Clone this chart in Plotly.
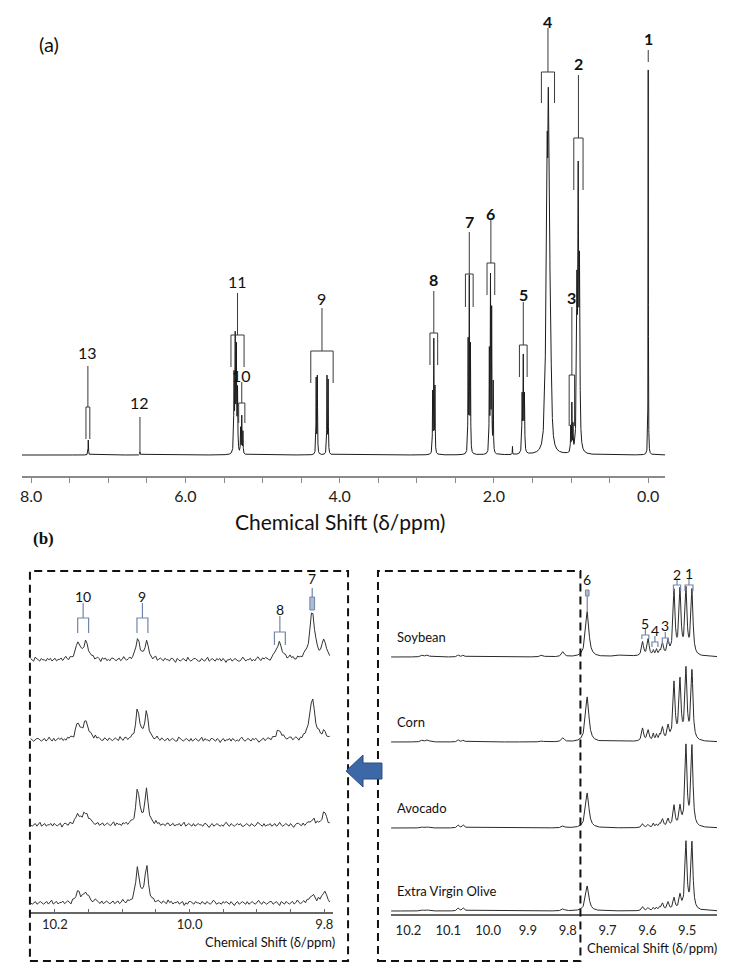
import numpy as np
import plotly.graph_objects as go

W, H = 736, 979
FONT = "Lato"

# ---------------- (a) full 1H NMR spectrum ----------------
a_ppm = [7.26, 6.59,
         5.37, 5.355, 5.34, 5.325, 5.285, 5.27, 5.255,
         4.305, 4.29, 4.165, 4.15,
         2.795, 2.78, 2.765,
         2.335, 2.32, 2.305,
         2.06, 2.045, 2.03, 2.01,
         1.76,
         1.635, 1.62, 1.605,
         1.33, 1.31, 1.295, 1.28, 1.26,
         1.005, 0.99, 0.975,
         0.925, 0.908, 0.891,
         0.0]
a_int = [15, 3,
         75, 111, 100, 60, 25, 37, 22,
         75, 77, 77, 73,
         60, 112, 65,
         110, 172, 105,
         100, 172, 140, 70,
         8,
         55, 93, 55,
         65, 225, 262, 180, 55,
         25, 47, 25,
         150, 258, 170,
         385]
a_hw = [0.003, 0.003,
        0.004, 0.004, 0.004, 0.004, 0.003, 0.003, 0.003,
        0.003, 0.003, 0.003, 0.003,
        0.003, 0.003, 0.003,
        0.003, 0.003, 0.003,
        0.003, 0.003, 0.003, 0.003,
        0.002,
        0.004, 0.004, 0.004,
        0.015, 0.008, 0.008, 0.008, 0.012,
        0.003, 0.003, 0.003,
        0.006, 0.006, 0.006,
        0.002]
a_ticks = [8.0, 6.0, 4.0, 2.0, 0.0]

# ---------------- (b) aldehyde region, four oils ----------------
oils = ["Soybean", "Corn", "Avocado", "Extra Virgin Olive"]
b_ppm = [10.165, 10.152, 10.075, 10.062, 9.865, 9.812, 9.751, 9.66,
         9.612, 9.598, 9.585, 9.577, 9.569, 9.562, 9.548, 9.533, 9.518, 9.503, 9.488]
b_hw = [0.004, 0.004, 0.003, 0.003, 0.004, 0.004, 0.005, 0.02,
        0.003, 0.003, 0.002, 0.002, 0.002, 0.003, 0.003, 0.003, 0.003, 0.003, 0.003]
b_soy = [2, 2, 2, 2, 2, 5, 45, 2, 14, 17, 5, 6, 4, 12, 14, 64, 64, 65, 65]
b_corn = [2, 2, 2, 2, 1, 4, 45, 1, 13, 11, 7, 6, 5, 13, 14, 57, 59, 70, 69]
b_avo = [1, 1, 3, 3, 0, 2, 35, 0, 4, 3, 4, 3, 3, 8, 8, 21, 19, 80, 80]
b_evo = [1, 1, 3, 3, 0, 2, 25, 0, 4, 3, 3, 3, 3, 7, 8, 12, 14, 67, 67]
b_ticks = [10.2, 10.1, 10.0, 9.9, 9.8, 9.7, 9.6, 9.5]

# expansion 10.24-9.79 ppm (vertically magnified)
e_ppm = [10.166, 10.154, 10.077, 10.064, 9.867, 9.818, 9.800]
e_hw = [0.0035, 0.005, 0.003, 0.003, 0.005, 0.0045, 0.0035]
e_soy = [17, 16, 22, 20, 17, 48, 18]
e_corn = [16, 18, 32, 28, 9, 42, 7]
e_avo = [10, 12, 36, 34, 0, 5, 13]
e_evo = [11, 10, 36, 37, 0, 8, 12]
e_ticks = [10.2, 10.0, 9.8]

noise_soy = [0,1,0,-1,1,2,0,-1,0,1,-1,0,1,0,-2,0,1,1,-1,0,0,1,-1,-1,1,0,2,0,-1,1,0,-1,0,1,-1,0,1,1,0,-2,-1,0,1,0,1,-1,0,2,1,-1,0,-1,1,0,0,-1,1,2,0,-1,-1,0,1,0,-1,1,0,0,-2,0,1,-1,1,0,1,-1,0,1,0,-1,2,0,-1,0,1,-1,-1,0,1,1,0,-1,0,2,-1,0,1,0,-1,0,1,-2,0,1,1,-1,0,0,1,-1,0,1,0,-1,2,1,-1,0,0,1,-1,-2,0,1,0,1,-1,0,1,0,-1,1,0,-1,0,2,0,-1,1,0,-1,0,1,1,-1,0,-1,1,0,1,-2,0,1,0,-1,1,0,0,-1,1,2,-1,0,1,0,-1,0,1,-1,0,1,-1,0,2,0,-1,1,0,0,-1,1,0,-1,1,0,1,-1,0,0,1,-1,0,1,2,-1,0,1]
noise_corn = [1,0,-1,0,1,-1,0,2,0,-1,1,0,-1,-1,0,1,0,1,-1,0,-2,0,1,0,-1,1,1,0,-1,0,1,-1,0,0,2,-1,0,1,-1,0,1,0,-1,1,0,-1,-2,0,1,0,1,-1,0,1,0,-1,0,2,1,-1,0,-1,0,1,-1,1,0,0,-1,1,0,-2,0,1,-1,0,1,1,-1,0,0,1,-1,2,0,-1,0,1,0,-1,1,-1,0,1,0,-1,0,1,2,-1,-1,0,1,0,-1,1,0,-1,0,1,-1,0,2,0,-1,0,1,-1,1,0,-1,0,1,0,-2,1,0,-1,1,0,0,-1,1,1,-1,0,2,-1,0,1,0,-1,0,1,-1,0,1,-1,-1,0,1,0,2,-1,0,1,-1,0,0,1,-1,1,0,-1,0,1,-2,0,1,0,1,-1,0,-1,1,0,1,0,-1,1,-1,0,2,0,-1,1,0,-1,0,1,1,0,-1,0,1]
noise_avo = [0,-1,1,0,1,-1,0,0,1,-1,2,0,-1,0,1,0,-1,1,-1,0,1,1,0,-2,0,1,-1,0,1,0,-1,0,2,0,-1,1,0,-1,1,0,0,-1,1,-1,0,1,2,0,-1,0,1,-1,0,1,0,-1,-1,1,0,1,0,-1,0,1,-1,0,2,1,-1,0,-1,0,1,0,-1,1,0,-2,0,1,1,-1,0,0,1,0,-1,1,-1,0,1,0,-1,2,0,-1,1,0,0,-1,1,0,-1,1,1,-1,0,0,-1,1,0,2,-1,0,1,-1,0,1,0,-1,0,1,-1,1,0,-2,0,1,0,-1,1,0,1,-1,0,0,1,-1,2,0,-1,0,1,0,-1,1,0,-1,1,0,-1,0,1,1,-1,0,-1,2,0,1,-1,0,0,1,-1,0,1,-1,0,1,0,-2,1,0,-1,0,1,-1,1,0,0,-1,1,0,-1,2,0,-1,1,0,-1,0]
noise_evo = [-1,0,1,0,-1,1,0,2,-1,0,1,-1,0,0,1,-1,1,0,-1,0,2,0,-1,1,0,-1,0,1,-1,0,1,-2,0,1,0,-1,1,1,0,-1,0,1,-1,0,2,0,-1,0,1,0,-1,1,-1,0,1,0,-1,1,0,-2,0,1,-1,0,1,0,1,-1,0,0,-1,1,2,0,-1,0,1,-1,0,1,-1,0,0,1,-1,0,1,1,-1,0,-2,1,0,-1,1,0,0,-1,1,0,2,-1,0,1,-1,0,1,0,-1,1,0,-1,0,1,-1,0,1,0,-2,0,1,1,-1,0,0,1,-1,0,2,0,-1,1,0,-1,1,0,-1,0,1,0,-1,1,-1,0,1,2,0,-1,0,1,-1,0,0,1,-1,1,0,-1,0,1,-2,0,1,0,-1,1,0,0,-1,1,0,-1,2,0,-1,1,0,-1,0,1,0,-1,1,0,-1,0]


def spectrum(x, centers, heights, widths):
    x = np.asarray(x, dtype=float)[:, None]
    c = np.asarray(centers, dtype=float)[None, :]
    h = np.asarray(heights, dtype=float)[None, :]
    w = np.asarray(widths, dtype=float)[None, :]
    return (h / (1.0 + ((x - c) / w) ** 2)).sum(axis=1)


def fine_grid(lo, hi, step, centers):
    g = np.concatenate([np.arange(lo, hi, step), np.asarray(centers, float)])
    g = g[(g >= lo) & (g <= hi)]
    return np.unique(g)


fig = go.Figure()
LINE = dict(color="#1c1c1c", width=1)

# (a)
xa = fine_grid(-0.22, 8.12, 0.0005, a_ppm)
fig.add_trace(go.Scatter(x=xa, y=spectrum(xa, a_ppm, a_int, a_hw), mode="lines",
                         line=LINE, xaxis="x", yaxis="y", hoverinfo="skip"))

# (b) right: full aldehyde region, stacked
b_offsets = [257, 172, 86, 3]
xb = fine_grid(9.425, 10.244, 0.0005, b_ppm)
for vals, off in zip([b_soy, b_corn, b_avo, b_evo], b_offsets):
    fig.add_trace(go.Scatter(x=xb, y=spectrum(xb, b_ppm, vals, b_hw) + off, mode="lines",
                             line=dict(color="#2a2a2a", width=1), xaxis="x3", yaxis="y3",
                             hoverinfo="skip"))

# (b) left: expansion with noise
e_offsets = [252, 172, 87, 9]
for vals, noise, off in zip([e_soy, e_corn, e_avo, e_evo],
                            [noise_soy, noise_corn, noise_avo, noise_evo], e_offsets):
    xe = np.linspace(9.792, 10.236, len(noise))
    ye = spectrum(xe, e_ppm, vals, e_hw) + 1.3 * np.asarray(noise, float) + off
    fig.add_trace(go.Scatter(x=xe, y=ye, mode="lines",
                             line=dict(color="#333333", width=1), xaxis="x2", yaxis="y2",
                             hoverinfo="skip"))

shapes = []
annotations = []


def ptx(x):
    return x / W


def pty(y):
    return 1 - y / H


def bracket(xref, yref, c, hw, top, leg, stem, color, width=1):
    p = f"M{c - hw},{leg} L{c - hw},{top} L{c + hw},{top} L{c + hw},{leg}"
    if stem is not None:
        p += f" M{c},{top} L{c},{stem}"
    shapes.append(dict(type="path", path=p, xref=xref, yref=yref,
                       line=dict(color=color, width=width)))


def label(xref, yref, x, y, text, size, bold=False, color="#111", anchor="center", family=FONT):
    annotations.append(dict(x=x, y=y, xref=xref, yref=yref, showarrow=False,
                            text=f"<b>{text}</b>" if bold else text,
                            font=dict(size=size, family=family, color=color),
                            xanchor=anchor, yanchor="middle"))


# (a) peak assignments: text, ppm, half-width, box top, leg bottom, stem top, label y, bold
a_labels = [
    ("13", 7.265, 0.025, 48, 16, 89, 103, False),
    ("11", 5.325, 0.085, 120, 88, 162, 174, False),
    ("10", 5.27, 0.04, 52, 32, 73, 80, False),
    ("9", 4.23, 0.145, 104, 72, 147, 157, False),
    ("8", 2.78, 0.05, 122, 90, 164, 176, True),
    ("7", 2.32, 0.05, 181, 148, 223, 234, True),
    ("6", 2.04, 0.05, 192, 160, 235, 242, True),
    ("5", 1.62, 0.05, 110, 78, 153, 161, True),
    ("3", 0.99, 0.035, 80, 29, 148, 158, True),
    ("2", 0.905, 0.06, 317, 265, 380, 392, True),
    ("4", 1.30, 0.085, 383, 352, 427, 434, True),
]
for t, c, hw, top, leg, stem, ly, bold in a_labels:
    bracket("x", "y", c, hw, top, leg, stem, "#3a3a3a", 1)
    label("x", "y", c, ly, t, 16, bold)
# 12 and 1: plain marker lines
shapes.append(dict(type="line", xref="x", yref="y", x0=6.59, x1=6.59, y0=2, y1=38,
                   line=dict(color="#3a3a3a", width=1)))
label("x", "y", 6.59, 53, "12", 16)
shapes.append(dict(type="line", xref="x", yref="y", x0=0.0, x1=0.0, y0=393, y1=405,
                   line=dict(color="#3a3a3a", width=1)))
label("x", "y", 0.0, 417, "1", 16, True)

# (b) left expansion labels
BL = "#7186a8"
e_labels = [
    ("10", 10.158, 0.0081, 294, 279, 309, 316),
    ("9", 10.070, 0.0081, 294, 279, 309, 316),
    ("8", 9.866, 0.0081, 280, 267, 296, 303),
]
for t, c, hw, top, leg, stem, ly in e_labels:
    bracket("x2", "y2", c, hw, top, leg, stem, BL, 1.2)
    label("x2", "y2", c, ly, t, 14)
shapes.append(dict(type="rect", xref="x2", yref="y2", x0=9.8215, x1=9.8145, y0=302, y1=315,
                   fillcolor="#aebbd0", line=dict(color=BL, width=1)))
shapes.append(dict(type="line", xref="x2", yref="y2", x0=9.818, x1=9.818, y0=315, y1=324,
                   line=dict(color=BL, width=1.2)))
label("x2", "y2", 9.818, 334, "7", 14)

# (b) right labels
b_labels = [
    ("5", 9.605, 0.0088, 279, 275, 285, 291),
    ("4", 9.581, 0.0075, 272, 267, 278, 284),
    ("3", 9.555, 0.0075, 276, 270, 282, 289),
    ("2", 9.5255, 0.009, 329, 323, 334, 340),
    ("1", 9.4955, 0.01, 329, 323, 335, 341),
]
for t, c, hw, top, leg, stem, ly in b_labels:
    bracket("x3", "y3", c, hw, top, leg, stem, BL, 1.2)
    label("x3", "y3", c, ly, t, 14)
shapes.append(dict(type="rect", xref="x3", yref="y3", x0=9.7555, x1=9.7465, y0=318, y1=324,
                   fillcolor="#aebbd0", line=dict(color=BL, width=1)))
shapes.append(dict(type="line", xref="x3", yref="y3", x0=9.751, x1=9.751, y0=318, y1=302,
                   line=dict(color=BL, width=1.2)))
label("x3", "y3", 9.751, 335, "6", 14)

for name, off in zip(oils, b_offsets):
    label("x3", "y3", 10.233, off + 20, name, 13, anchor="left")

# dashed boxes
DASH = "8px,5px"
for x0, x1 in [(28, 347), (377, 580)]:
    shapes.append(dict(type="rect", xref="paper", yref="paper", x0=ptx(x0), x1=ptx(x1),
                       y0=pty(961), y1=pty(571), line=dict(color="#111", width=2, dash=DASH)))

# blue arrow
arrow = [(345, 771), (362, 755), (362, 763), (381, 763), (381, 779), (362, 779), (362, 787)]
path = "M" + " L".join(f"{ptx(x)},{pty(y)}" for x, y in arrow) + " Z"
shapes.append(dict(type="path", path=path, xref="paper", yref="paper",
                   fillcolor="#3d68a8", line=dict(color="#2b4c80", width=1)))

# panel letters and axis titles
label("paper", "paper", ptx(35), pty(44), "(a)", 20, anchor="left")
label("paper", "paper", ptx(29), pty(538), "<b>(b)</b>", 17, anchor="left",
      family="Liberation Serif")
label("paper", "paper", ptx(339), pty(521), "Chemical Shift (δ/ppm)", 21)
label("paper", "paper", ptx(336), pty(942), "Chemical Shift (δ/ppm)", 13, anchor="right")
label("paper", "paper", ptx(652), pty(948), "Chemical Shift (δ/ppm)", 13)

GREY = "#8a8a8a"
fig.update_layout(
    width=W, height=H, margin=dict(l=0, r=0, t=0, b=0),
    paper_bgcolor="white", plot_bgcolor="white", showlegend=False,
    font=dict(family=FONT, color="#111"),
    xaxis=dict(domain=[ptx(20), ptx(665)], range=[8.12, -0.22], anchor="y",
               showline=True, linecolor=GREY, linewidth=2, ticks="outside", ticklen=5,
               tickcolor=GREY, tickvals=a_ticks, ticktext=[f"{v:.1f}" for v in a_ticks],
               tickfont=dict(size=16, color="#222"),
               minor=dict(dtick=0.5, tick0=0, ticks="outside", ticklen=5, tickcolor=GREY),
               showgrid=False, zeroline=False),
    yaxis=dict(domain=[pty(476), 1], range=[-21, 455], visible=False),
    xaxis2=dict(domain=[ptx(28), ptx(332)], range=[10.237, 9.787], anchor="y2",
                showline=True, linecolor="#666", linewidth=1.5, ticks="inside", ticklen=3,
                tickcolor="#666", tickvals=e_ticks, ticktext=[f"{v:.1f}" for v in e_ticks],
                tickfont=dict(size=13, color="#222"),
                minor=dict(dtick=0.05, tick0=9.8, ticks="inside", ticklen=3, tickcolor="#666"),
                showgrid=False, zeroline=False),
    yaxis2=dict(domain=[pty(912), pty(571)], range=[0, 341], visible=False),
    xaxis3=dict(domain=[ptx(390), ptx(717)], range=[10.244, 9.425], anchor="y3",
                showline=True, linecolor="#666", linewidth=1.5, ticks="outside", ticklen=4,
                tickcolor="#ffffff", tickvals=b_ticks, ticktext=[f"{v:.1f}" for v in b_ticks],
                tickfont=dict(size=13, color="#222"),
                showgrid=False, zeroline=False),
    yaxis3=dict(domain=[pty(914), pty(571)], range=[0, 343], visible=False),
    shapes=shapes, annotations=annotations,
)

fig.write_html("out.html", config={"displayModeBar": False},
               post_script="document.body.style.margin='0';")
